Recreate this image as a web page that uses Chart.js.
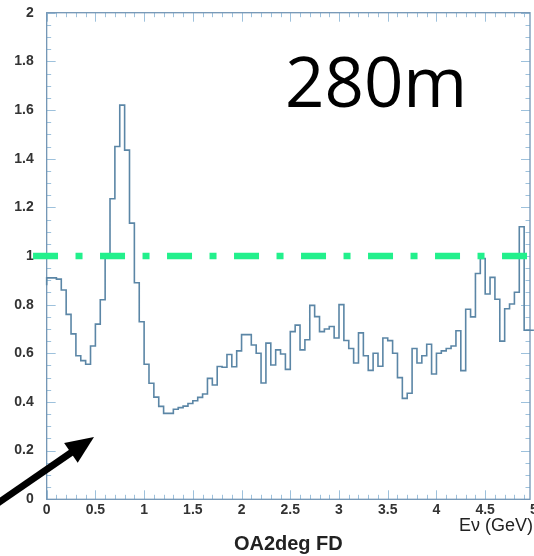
<!DOCTYPE html>
<html>
<head>
<meta charset="utf-8">
<script src="https://cdn.jsdelivr.net/npm/chart.js@4.4.0/dist/chart.umd.min.js"></script>
<style>
  html, body { margin: 0; padding: 0; background: #fff; }
  canvas { display: block; }
</style>
</head>
<body>
<canvas id="myChart" width="534" height="556"></canvas>
<script>
// histogram: ratio per 0.05 GeV bin, 0 -> 5 GeV
const binWidth = 0.05;
const ratio = [
  0.88, 0.91, 0.91, 0.905, 0.86, 0.76, 0.68, 0.59, 0.57, 0.555,
  0.63, 0.72, 0.82, 1.0, 1.235, 1.45, 1.62, 1.435, 1.135, 0.89,
  0.73, 0.555, 0.477, 0.42, 0.382, 0.353, 0.353, 0.37, 0.377, 0.383,
  0.394, 0.405, 0.419, 0.433, 0.497, 0.47, 0.546, 0.543, 0.595, 0.545,
  0.61, 0.677, 0.677, 0.634, 0.60, 0.478, 0.642, 0.552, 0.614, 0.597,
  0.534, 0.689, 0.716, 0.614, 0.656, 0.797, 0.751, 0.689, 0.70, 0.71,
  0.663, 0.80, 0.653, 0.62, 0.56, 0.684, 0.59, 0.53, 0.60, 0.547,
  0.663, 0.652, 0.60, 0.50, 0.415, 0.436, 0.62, 0.56, 0.59, 0.637,
  0.515, 0.60, 0.61, 0.62, 0.63, 0.693, 0.529, 0.781, 0.75, 0.928,
  0.99, 0.844, 0.912, 0.822, 0.65, 0.783, 0.803, 0.851, 1.12, 0.695
];

// dash-dot reference line at 1
const refLevel = 1;
const refFrom = -0.14;
const refTo = 4.96;

// frame stops a hair short of 5 in the scan, last bin pokes out
const xMax = 4.96;
const xTicks = [0, 0.5, 1, 1.5, 2, 2.5, 3, 3.5, 4, 4.5, 5];
const yTicks = [0, 0.2, 0.4, 0.6, 0.8, 1, 1.2, 1.4, 1.6, 1.8, 2];
const xMinor = 0.1;
const yMinor = 0.05;

const baseline = '280m';
const xTitle = 'OA2deg FD';
const xUnit = 'E\u03bd (GeV)';

// left bin edges + closing edge at the end
const histPoints = ratio.map((v, i) => ({ x: i * binWidth, y: v }));
histPoints.push({ x: ratio.length * binWidth, y: ratio[ratio.length - 1] });

// inward ticks on all four sides + frame, like ROOT
const rootAxes = {
    id: 'rootAxes',
    beforeDatasetsDraw(chart) {
        const { ctx, chartArea: a, scales: { x, y } } = chart;
        ctx.save();
        ctx.strokeStyle = '#9dc1dc';
        ctx.lineWidth = 1;
        ctx.beginPath();
        const nx = Math.floor((x.max - x.min) / xMinor + 1e-6);
        for (let k = 0; k <= nx; k++) {
            const v = x.min + k * xMinor;
            const px = Math.round(x.getPixelForValue(v)) + 0.5;
            const len = k % 5 === 0 ? 9 : 4.5;
            ctx.moveTo(px, a.bottom); ctx.lineTo(px, a.bottom - len);
            ctx.moveTo(px, a.top); ctx.lineTo(px, a.top + len);
        }
        const ny = Math.round((y.max - y.min) / yMinor);
        for (let k = 0; k <= ny; k++) {
            const v = y.min + k * yMinor;
            const py = Math.round(y.getPixelForValue(v)) + 0.5;
            const len = k % 4 === 0 ? 9 : 4.5;
            ctx.moveTo(a.left, py); ctx.lineTo(a.left + len, py);
            ctx.moveTo(a.right, py); ctx.lineTo(a.right - len, py);
        }
        ctx.stroke();

        ctx.strokeStyle = '#7396b5';
        ctx.lineWidth = 1.3;
        ctx.strokeRect(a.left, a.top, a.width, a.height);
        ctx.restore();
    }
};

// big label, arrow, unit text
const notes = {
    id: 'notes',
    afterDraw(chart) {
        const { ctx } = chart;
        ctx.save();

        ctx.fillStyle = '#000';
        ctx.font = '69px "Open Sans"';
        ctx.textAlign = 'left';
        ctx.textBaseline = 'alphabetic';
        ctx.fillText(baseline, 285, 107);

        ctx.fillStyle = '#222';
        ctx.font = '18px "Liberation Sans"';
        ctx.textAlign = 'right';
        ctx.fillText(xUnit, 533, 531);

        // arrow
        const tail = { x: -2, y: 503 };
        const tip = { x: 94, y: 437 };
        const dx = tail.x - tip.x, dy = tail.y - tip.y;
        const d = Math.hypot(dx, dy);
        const ux = dx / d, uy = dy / d;
        const headLen = 28, headHalf = 12;
        const bx = tip.x + ux * headLen, by = tip.y + uy * headLen;
        ctx.strokeStyle = '#000';
        ctx.lineWidth = 7;
        ctx.beginPath();
        ctx.moveTo(tail.x, tail.y);
        ctx.lineTo(bx + ux * -2, by + uy * -2);
        ctx.stroke();
        ctx.fillStyle = '#000';
        ctx.beginPath();
        ctx.moveTo(tip.x, tip.y);
        ctx.lineTo(bx - uy * headHalf, by + ux * headHalf);
        ctx.lineTo(bx + uy * headHalf, by - ux * headHalf);
        ctx.closePath();
        ctx.fill();

        ctx.restore();
    }
};

const tickFont = { family: 'Liberation Sans', weight: 'bold', size: 14 };

const ctx = document.getElementById('myChart').getContext('2d');
const myChart = new Chart(ctx, {
    type: 'line',
    data: {
        datasets: [{
                label: 'reference',
                data: [{ x: refFrom, y: refLevel }, { x: refTo, y: refLevel }],
                borderColor: '#22f08c',
                borderWidth: 6.5,
                borderDash: [25, 17.5, 7, 17.5],
                borderCapStyle: 'butt',
                pointRadius: 0,
                clip: false,
                order: 0
            },
            {
                label: xTitle,
                data: histPoints,
                stepped: 'after',
                borderColor: '#5b86a6',
                borderWidth: 1.6,
                pointRadius: 0,
                fill: false,
                clip: false,
                order: 1
            }
        ]
    },
    options: {
        responsive: false,
        animation: false,
        devicePixelRatio: 1,
        layout: {
            autoPadding: false,
            padding: { top: 12.7, right: 4, bottom: 0, left: 0 }
        },
        plugins: {
            legend: { display: false },
            tooltip: { enabled: false }
        },
        scales: {
            x: {
                type: 'linear',
                min: 0,
                max: xMax,
                grid: { display: false, drawTicks: false },
                border: { display: false },
                afterBuildTicks: (s) => { s.ticks = xTicks.map(v => ({ value: v })); },
                afterFit: (s) => {
                    s.height = 56.7;
                    s.paddingLeft = 0;
                    s.paddingRight = 0;
                },
                ticks: {
                    font: tickFont,
                    color: '#333',
                    padding: 2,
                    maxRotation: 0,
                    autoSkip: false,
                    callback: (v) => String(v)
                },
                title: {
                    display: true,
                    text: xTitle,
                    color: '#222',
                    font: { family: 'Liberation Sans', weight: 'bold', size: 20 },
                    padding: { top: 0, bottom: 0 }
                }
            },
            y: {
                min: 0,
                max: 2,
                grid: { display: false, drawTicks: false },
                border: { display: false },
                afterBuildTicks: (s) => { s.ticks = yTicks.map(v => ({ value: v })); },
                afterFit: (s) => {
                    s.width = 46.67;
                    s.paddingTop = 0;
                    s.paddingBottom = 0;
                },
                ticks: {
                    font: tickFont,
                    color: '#333',
                    padding: 13,
                    autoSkip: false,
                    callback: (v) => String(v)
                }
            }
        }
    },
    plugins: [rootAxes, notes]
});
</script>
</body>
</html>
